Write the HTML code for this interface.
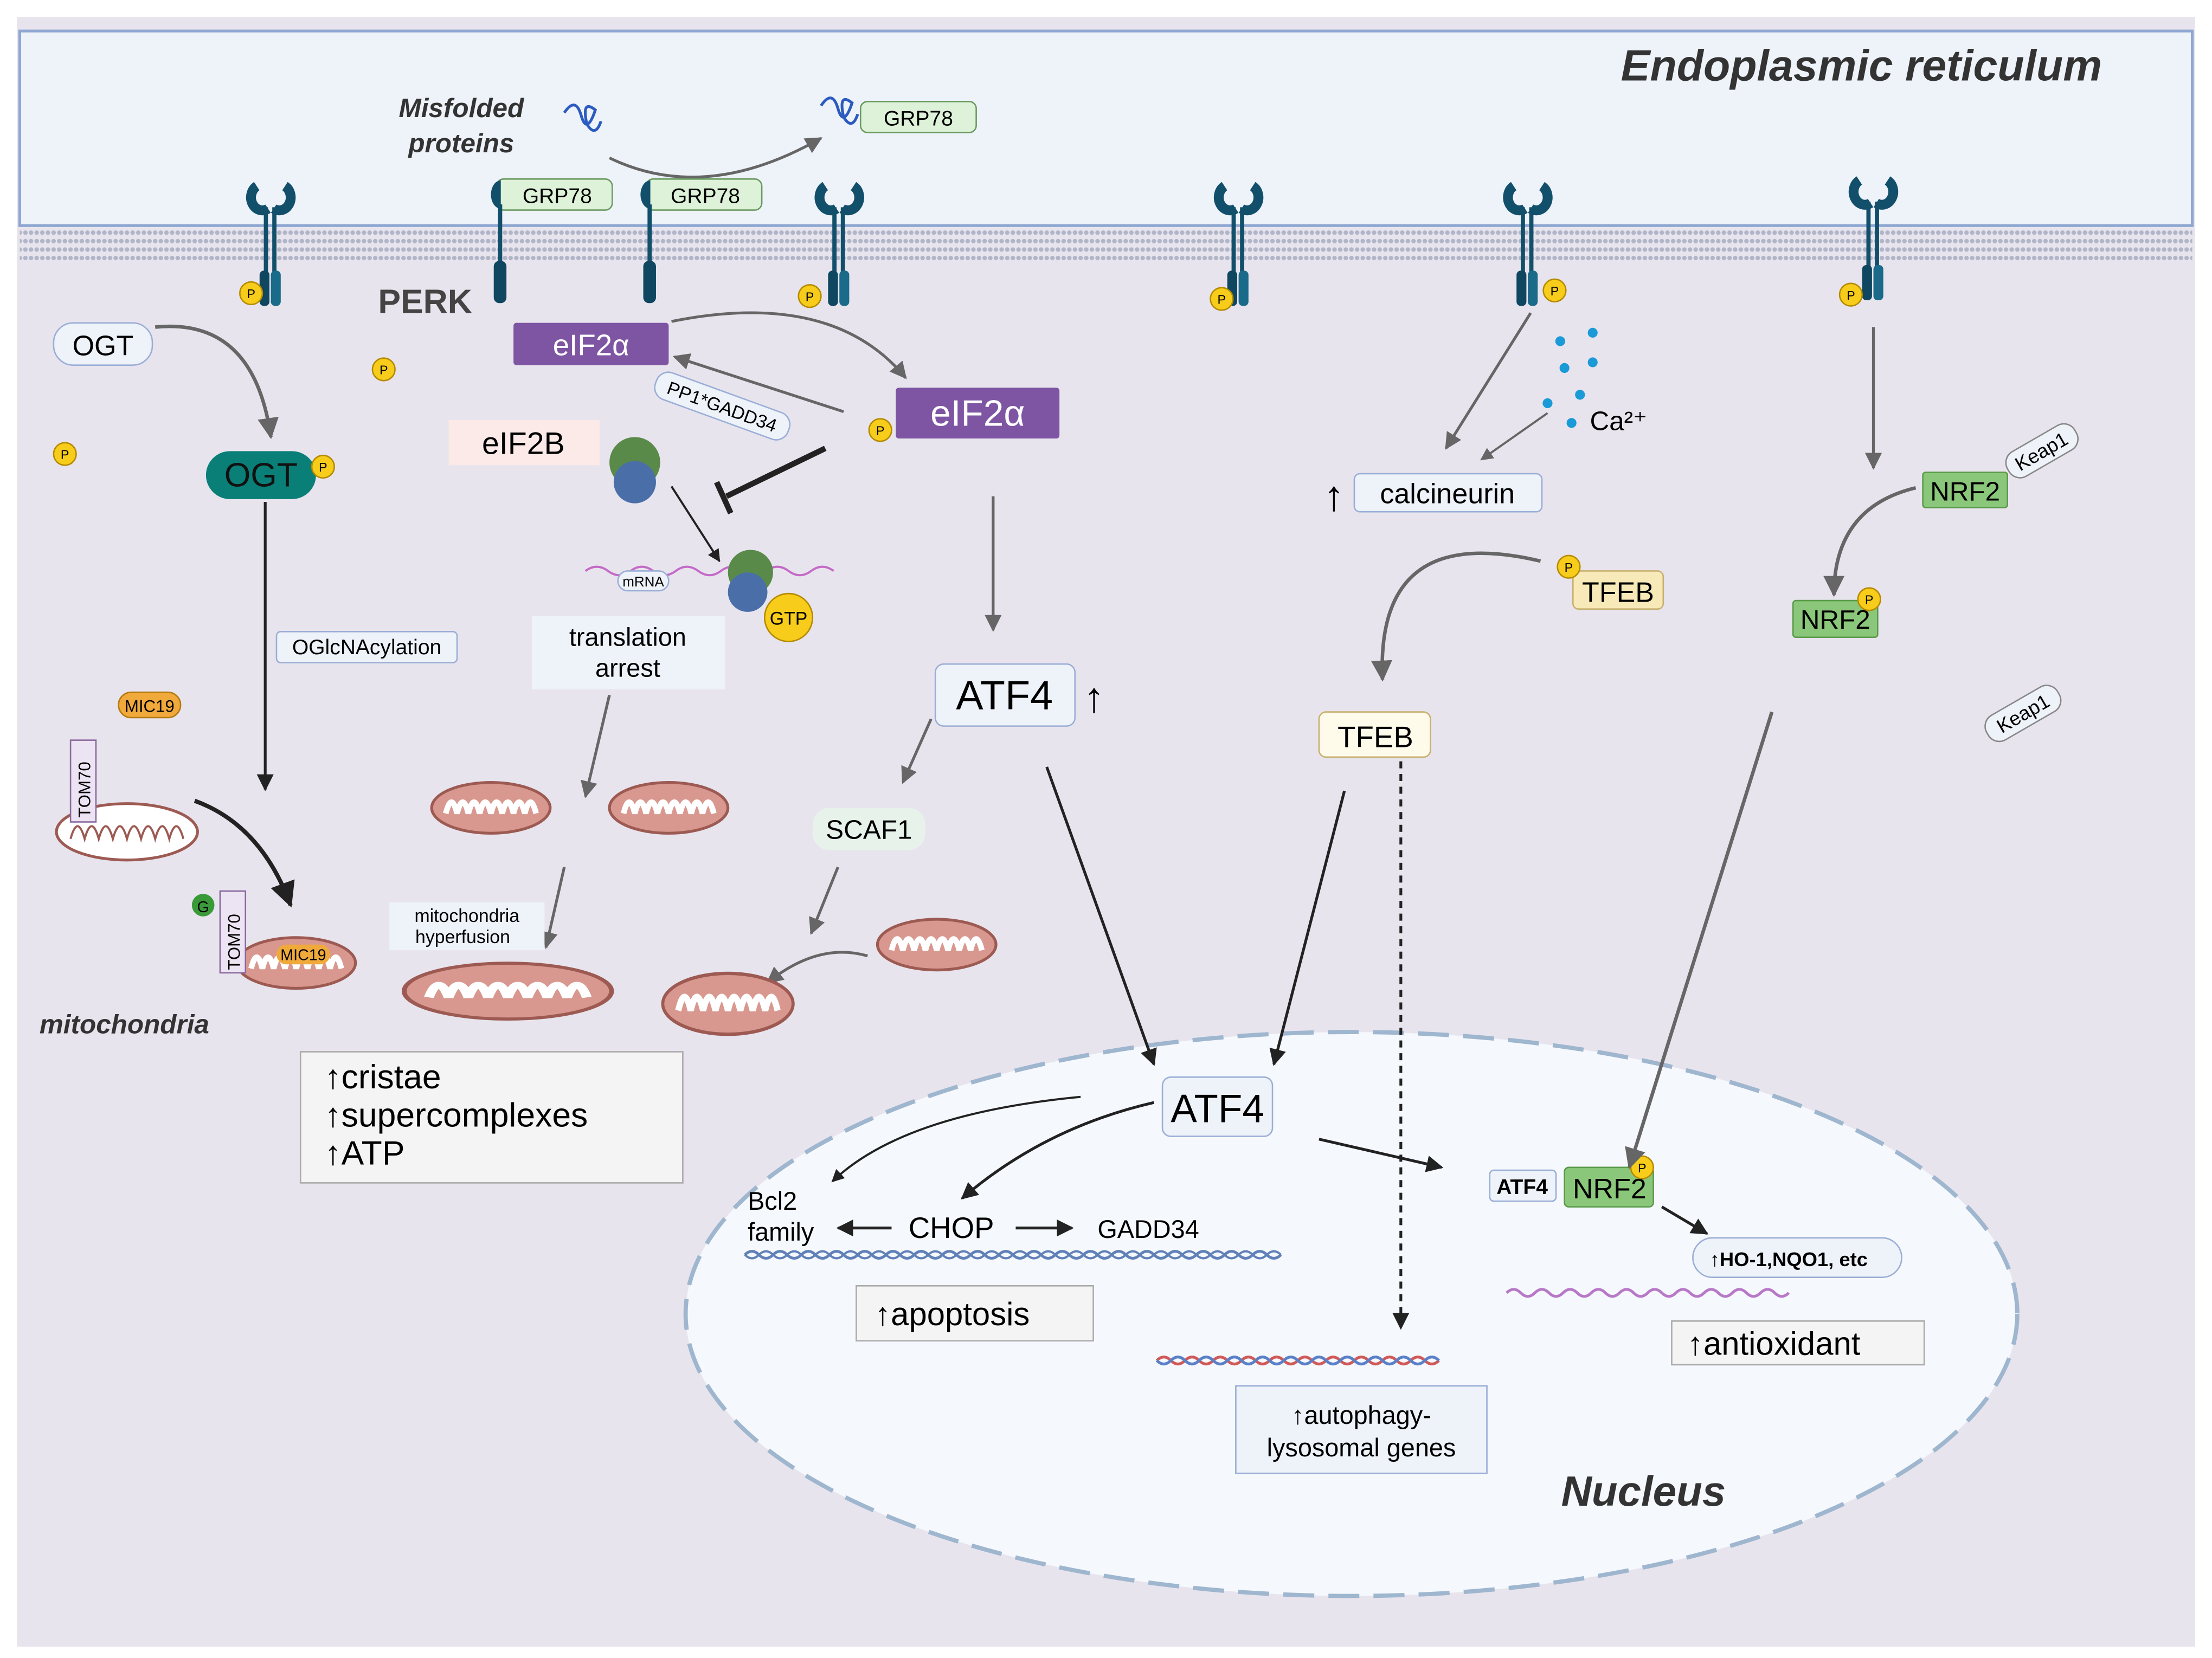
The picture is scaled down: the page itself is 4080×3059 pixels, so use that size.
<!DOCTYPE html><html><head><meta charset="utf-8"><style>html,body{margin:0;padding:0;background:#fff}svg{display:block}text{font-family:"Liberation Sans",sans-serif}</style></head><body>
<svg width="4080" height="3059" viewBox="0 0 1568 1176" preserveAspectRatio="none" xmlns="http://www.w3.org/2000/svg">
<defs>
<marker id="a" viewBox="0 0 10 10" refX="9" refY="5" markerWidth="6" markerHeight="6" orient="auto"><path d="M0,0L10,5L0,10z" fill="#222"/></marker>
<marker id="g" viewBox="0 0 10 10" refX="9" refY="5" markerWidth="6" markerHeight="6" orient="auto"><path d="M0,0L10,5L0,10z" fill="#666"/></marker>
<pattern id="mem" width="4" height="6" patternUnits="userSpaceOnUse"><circle cx="2" cy="3" r="1.6" fill="#aab0c4"/></pattern>
<clipPath id="nc"><rect x="0" y="0" width="1568" height="1134"/></clipPath>
<g id="rec"><path d="M-10,-10 a7,8 0 0 0 8,16 M10,-10 a7,8 0 0 1 -8,16" stroke="#124f6b" stroke-width="7" fill="none"/><rect x="-5" y="5" width="3" height="50" fill="#124f6b"/><rect x="1" y="5" width="3" height="50" fill="#124f6b"/><rect x="-8" y="50" width="7" height="25" rx="3" fill="#0f4660"/><rect x="0" y="50" width="7" height="25" rx="3" fill="#1a6a8a"/></g>
<g id="mito"><ellipse cx="0" cy="0" rx="42" ry="18" fill="#d9988f" stroke="#9c5a52" stroke-width="2"/><path d="M-32,4 q4,-16 8,0 q4,-16 8,0 q4,-16 8,0 q4,-16 8,0 q4,-16 8,0 q4,-16 8,0 q4,-16 8,0 q4,-16 8,0" stroke="#fff" stroke-width="4" fill="none"/></g>
<g id="p"><circle r="8" fill="#f7cc1a" stroke="#b48a00" stroke-width="1"/><text y="3.5" font-size="9" text-anchor="middle">P</text></g>
</defs>
<rect width="1568" height="1176" fill="#fff"/>
<rect x="12" y="12" width="1544" height="1156" fill="#e8e4ed"/>
<ellipse cx="958" cy="932" rx="472" ry="200" fill="#f5f8fc" stroke="#9fb6cf" stroke-width="3" stroke-dasharray="22 10" clip-path="url(#nc)"/>
<rect x="14" y="22" width="1540" height="138" fill="#eef2f9" stroke="#8ea7d2" stroke-width="2"/>
<rect x="14" y="162" width="1540" height="24" fill="url(#mem)" opacity="0.9"/>
<text x="1490" y="57" font-size="31" font-weight="bold" font-style="italic" text-anchor="end" fill="#333">Endoplasmic reticulum</text>
<text x="327" y="83" font-size="19" font-weight="bold" font-style="italic" text-anchor="middle" fill="#333">Misfolded</text>
<text x="327" y="108" font-size="19" font-weight="bold" font-style="italic" text-anchor="middle" fill="#333">proteins</text>
<path d="M400,80 q8,-12 12,2 q4,14 10,-4 q-10,-8 -6,10 q6,10 10,-2" stroke="#2b5bbf" stroke-width="2" fill="none"/>
<path d="M432,112 Q500,145 582,98" stroke="#666" stroke-width="2" fill="none" marker-end="url(#g)"/>
<path d="M582,75 q8,-12 12,2 q4,14 10,-4 q-10,-8 -6,10 q6,10 10,-2" stroke="#2b5bbf" stroke-width="2" fill="none"/>
<rect x="610" y="72" width="82" height="22" rx="5" fill="#ddf2d8" stroke="#6a9a60"/><text x="651" y="89" font-size="15" text-anchor="middle">GRP78</text>
<rect x="352" y="127" width="82" height="22" rx="5" fill="#ddf2d8" stroke="#6a9a60"/><text x="395" y="144" font-size="15" text-anchor="middle">GRP78</text>
<rect x="458" y="127" width="82" height="22" rx="5" fill="#ddf2d8" stroke="#6a9a60"/><text x="500" y="144" font-size="15" text-anchor="middle">GRP78</text>
<path d="M355,128 a7,10 0 0 0 0,20" fill="#124f6b"/><rect x="353" y="145" width="3" height="45" fill="#124f6b"/><rect x="350" y="185" width="9" height="30" rx="4" fill="#0f4660"/>
<path d="M461,128 a7,10 0 0 0 0,20" fill="#124f6b"/><rect x="459" y="145" width="3" height="45" fill="#124f6b"/><rect x="456" y="185" width="9" height="30" rx="4" fill="#0f4660"/>
<use href="#rec" x="192" y="142"/><use href="#rec" x="595" y="142"/><use href="#rec" x="878" y="142"/><use href="#rec" x="1083" y="142"/><use href="#rec" x="1328" y="138"/>
<use href="#p" x="178" y="208"/><use href="#p" x="574" y="210"/><use href="#p" x="866" y="212"/><use href="#p" x="1102" y="206"/><use href="#p" x="1312" y="209"/>
<use href="#p" x="272" y="262"/><use href="#p" x="46" y="322"/>
<text x="268" y="222" font-size="24" font-weight="bold" fill="#444">PERK</text>
<rect x="38" y="229" width="70" height="30" rx="14" fill="#eef2f9" stroke="#9aaed6"/><text x="73" y="252" font-size="20" text-anchor="middle">OGT</text>
<path d="M110,232 Q180,225 192,310" stroke="#666" stroke-width="2.5" fill="none" marker-end="url(#g)"/>
<rect x="146" y="320" width="78" height="34" rx="17" fill="#0a7f77"/><text x="185" y="345" font-size="24" text-anchor="middle" fill="#111">OGT</text><use href="#p" x="229" y="331"/>
<line x1="188" y1="356" x2="188" y2="560" stroke="#222" stroke-width="2" marker-end="url(#a)"/>
<rect x="196" y="448" width="128" height="22" rx="3" fill="#eef2f9" stroke="#9aaed6"/><text x="260" y="464" font-size="15" text-anchor="middle">OGlcNAcylation</text>
<rect x="84" y="491" width="44" height="18" rx="9" fill="#f0a93b" stroke="#b57a10"/><text x="106" y="505" font-size="12" text-anchor="middle">MIC19</text>
<ellipse cx="90" cy="590" rx="50" ry="20" fill="#fff" stroke="#9c5a52" stroke-width="2"/>
<path d="M50,595 q5,-18 10,0 q5,-18 10,0 q5,-18 10,0 q5,-18 10,0 q5,-18 10,0 q5,-18 10,0 q5,-18 10,0 q5,-18 10,0" stroke="#9c5a52" stroke-width="1.5" fill="none"/>
<rect x="50" y="525" width="18" height="58" fill="#ece4f2" stroke="#8a6aa0"/><text x="64" y="580" font-size="12" transform="rotate(-90 64 580)">TOM70</text>
<path d="M138,568 Q185,585 206,642" stroke="#222" stroke-width="3" fill="none" marker-end="url(#a)"/>
<circle cx="144" cy="642" r="8" fill="#3a9a3a"/><text x="144" y="647" font-size="11" text-anchor="middle">G</text>
<use href="#mito" x="210" y="683"/><rect x="156" y="632" width="18" height="58" fill="#ece4f2" stroke="#8a6aa0"/><text x="170" y="688" font-size="12" transform="rotate(-90 170 688)">TOM70</text>
<rect x="196" y="670" width="38" height="14" rx="7" fill="#f0a93b"/><text x="215" y="681" font-size="11" text-anchor="middle">MIC19</text>
<text x="28" y="733" font-size="19" font-weight="bold" font-style="italic" fill="#333">mitochondria</text>
<rect x="213" y="746" width="271" height="93" fill="#f4f4f4" stroke="#aaa"/>
<text x="230" y="772" font-size="24">↑cristae</text><text x="230" y="799" font-size="24">↑supercomplexes</text><text x="230" y="826" font-size="24">↑ATP</text>
<rect x="364" y="229" width="110" height="30" rx="2" fill="#7e55a3"/><text x="419" y="252" font-size="21" fill="#fff" text-anchor="middle">eIF2α</text>
<path d="M476,228 Q590,205 642,268" stroke="#666" stroke-width="2" fill="none" marker-end="url(#g)"/>
<path d="M598,292 L478,253" stroke="#666" stroke-width="2" fill="none" marker-end="url(#g)"/>
<rect x="462" y="278" width="100" height="20" rx="9" fill="#eef2f9" stroke="#9aaed6" transform="rotate(20 512 288)"/><text x="512" y="293" font-size="13" text-anchor="middle" transform="rotate(20 512 288)">PP1*GADD34</text>
<rect x="635" y="275" width="116" height="36" rx="2" fill="#7e55a3"/><text x="693" y="302" font-size="26" fill="#fff" text-anchor="middle">eIF2α</text><use href="#p" x="624" y="305"/>
<rect x="318" y="298" width="107" height="32" fill="#fbeae8"/><text x="371" y="322" font-size="22" text-anchor="middle">eIF2B</text>
<circle cx="450" cy="328" r="18" fill="#5a8a4a"/><circle cx="450" cy="342" r="15" fill="#4a6fa8"/>
<line x1="476" y1="345" x2="510" y2="398" stroke="#222" stroke-width="1.5" marker-end="url(#a)"/>
<path d="M585,318 L515,352" stroke="#222" stroke-width="4"/><path d="M508,342 L518,364" stroke="#222" stroke-width="4"/>
<path d="M415,405 q8,-6 16,0 q8,6 16,0 q8,-6 16,0 q8,6 16,0 q8,-6 16,0 q8,6 16,0 q8,-6 16,0 q8,6 16,0 q8,-6 16,0 q8,6 16,0 q8,-6 16,0" stroke="#c46ac8" stroke-width="1.5" fill="none"/>
<rect x="438" y="405" width="36" height="14" rx="7" fill="#eef2f9" stroke="#9aaed6"/><text x="456" y="416" font-size="10" text-anchor="middle">mRNA</text>
<circle cx="532" cy="406" r="16" fill="#5a8a4a"/><circle cx="530" cy="420" r="14" fill="#4a6fa8"/>
<circle cx="559" cy="438" r="17" fill="#f7cc1a" stroke="#b48a00"/><text x="559" y="443" font-size="13" text-anchor="middle">GTP</text>
<rect x="377" y="437" width="137" height="52" fill="#eef2f9"/><text x="445" y="458" font-size="18" text-anchor="middle">translation</text><text x="445" y="480" font-size="18" text-anchor="middle">arrest</text>
<line x1="432" y1="493" x2="415" y2="565" stroke="#666" stroke-width="2" marker-end="url(#g)"/>
<use href="#mito" x="348" y="573"/><use href="#mito" x="474" y="573"/>
<line x1="400" y1="615" x2="387" y2="672" stroke="#666" stroke-width="2" marker-end="url(#g)"/>
<rect x="276" y="640" width="110" height="34" fill="#eef2f9"/><text x="331" y="654" font-size="13" text-anchor="middle">mitochondria</text><text x="328" y="669" font-size="13" text-anchor="middle">hyperfusion</text>
<g transform="translate(360,703) scale(1.75,1.1)"><use href="#mito"/></g>
<line x1="704" y1="352" x2="704" y2="447" stroke="#666" stroke-width="2" marker-end="url(#g)"/>
<rect x="663" y="471" width="99" height="44" rx="6" fill="#eef2f9" stroke="#9aaed6"/><text x="712" y="503" font-size="29" text-anchor="middle">ATF4</text>
<text x="768" y="505" font-size="30" font-weight="bold">↑</text>
<line x1="660" y1="510" x2="640" y2="555" stroke="#666" stroke-width="2" marker-end="url(#g)"/>
<rect x="576" y="573" width="80" height="30" rx="12" fill="#e6f2ea"/><text x="616" y="595" font-size="19" text-anchor="middle">SCAF1</text>
<line x1="594" y1="615" x2="575" y2="662" stroke="#666" stroke-width="2" marker-end="url(#g)"/>
<use href="#mito" x="664" y="670"/>
<path d="M615,678 Q580,668 544,697" stroke="#666" stroke-width="2" fill="none" marker-end="url(#g)"/>
<g transform="translate(516,712) scale(1.1,1.2)"><use href="#mito"/></g>
<line x1="742" y1="544" x2="818" y2="755" stroke="#222" stroke-width="2" marker-end="url(#a)"/>
<rect x="824" y="764" width="78" height="42" rx="6" fill="#eef2f9" stroke="#9aaed6"/><text x="863" y="796" font-size="28" text-anchor="middle">ATF4</text>
<path d="M766,778 Q640,790 590,838" stroke="#222" stroke-width="1.5" fill="none" marker-end="url(#a)"/>
<path d="M818,782 Q740,800 682,850" stroke="#222" stroke-width="2" fill="none" marker-end="url(#a)"/>
<text x="530" y="858" font-size="18">Bcl2</text><text x="530" y="880" font-size="18">family</text>
<text x="644" y="878" font-size="21">CHOP</text><text x="778" y="878" font-size="18">GADD34</text>
<line x1="632" y1="871" x2="594" y2="871" stroke="#222" stroke-width="2" marker-end="url(#a)"/>
<line x1="720" y1="871" x2="760" y2="871" stroke="#222" stroke-width="2" marker-end="url(#a)"/>
<path d="M528,890 q5,-5 10,0 q5,5 10,0 q5,-5 10,0 q5,5 10,0 q5,-5 10,0 q5,5 10,0 q5,-5 10,0 q5,5 10,0 q5,-5 10,0 q5,5 10,0 q5,-5 10,0 q5,5 10,0 q5,-5 10,0 q5,5 10,0 q5,-5 10,0 q5,5 10,0 q5,-5 10,0 q5,5 10,0 q5,-5 10,0 q5,5 10,0 q5,-5 10,0 q5,5 10,0 q5,-5 10,0 q5,5 10,0 q5,-5 10,0 q5,5 10,0 q5,-5 10,0 q5,5 10,0 q5,-5 10,0 q5,5 10,0 q5,-5 10,0 q5,5 10,0 q5,-5 10,0 q5,5 10,0 q5,-5 10,0 q5,5 10,0 q5,-5 10,0 q5,5 10,0" stroke="#6080b8" stroke-width="2" fill="none"/>
<path d="M528,890 q5,5 10,0 q5,-5 10,0 q5,5 10,0 q5,-5 10,0 q5,5 10,0 q5,-5 10,0 q5,5 10,0 q5,-5 10,0 q5,5 10,0 q5,-5 10,0 q5,5 10,0 q5,-5 10,0 q5,5 10,0 q5,-5 10,0 q5,5 10,0 q5,-5 10,0 q5,5 10,0 q5,-5 10,0 q5,5 10,0 q5,-5 10,0 q5,5 10,0 q5,-5 10,0 q5,5 10,0 q5,-5 10,0 q5,5 10,0 q5,-5 10,0 q5,5 10,0 q5,-5 10,0 q5,5 10,0 q5,-5 10,0 q5,5 10,0 q5,-5 10,0 q5,5 10,0 q5,-5 10,0 q5,5 10,0 q5,-5 10,0 q5,5 10,0 q5,-5 10,0" stroke="#6080b8" stroke-width="1.5" fill="none"/>
<rect x="607" y="912" width="168" height="39" fill="#f4f4f4" stroke="#aaa"/><text x="620" y="940" font-size="23">↑apoptosis</text>
<line x1="935" y1="808" x2="1022" y2="828" stroke="#222" stroke-width="2" marker-end="url(#a)"/>
<rect x="1056" y="830" width="47" height="22" rx="3" fill="#eef2f9" stroke="#9aaed6"/><text x="1079" y="847" font-size="15" font-weight="bold" text-anchor="middle">ATF4</text>
<rect x="1109" y="828" width="63" height="28" rx="3" fill="#8bc77a" stroke="#5a9a4a"/><text x="1141" y="850" font-size="20" text-anchor="middle">NRF2</text><use href="#p" x="1164" y="828"/>
<line x1="1178" y1="856" x2="1210" y2="875" stroke="#222" stroke-width="2" marker-end="url(#a)"/>
<rect x="1200" y="878" width="148" height="28" rx="14" fill="#eef2f9" stroke="#9aaed6"/><text x="1212" y="898" font-size="14" font-weight="bold">↑HO-1,NQO1, etc</text>
<path d="M1068,917 q5,-5 10,0 q5,5 10,0 q5,-5 10,0 q5,5 10,0 q5,-5 10,0 q5,5 10,0 q5,-5 10,0 q5,5 10,0 q5,-5 10,0 q5,5 10,0 q5,-5 10,0 q5,5 10,0 q5,-5 10,0 q5,5 10,0 q5,-5 10,0 q5,5 10,0 q5,-5 10,0 q5,5 10,0 q5,-5 10,0 q5,5 10,0" stroke="#b878c8" stroke-width="2" fill="none"/>
<rect x="1185" y="937" width="179" height="31" fill="#f4f4f4" stroke="#aaa"/><text x="1196" y="961" font-size="23">↑antioxidant</text>
<path d="M820,965 q5,-5 10,0 q5,5 10,0 q5,-5 10,0 q5,5 10,0 q5,-5 10,0 q5,5 10,0 q5,-5 10,0 q5,5 10,0 q5,-5 10,0 q5,5 10,0 q5,-5 10,0 q5,5 10,0 q5,-5 10,0 q5,5 10,0 q5,-5 10,0 q5,5 10,0 q5,-5 10,0 q5,5 10,0 q5,-5 10,0 q5,5 10,0" stroke="#d05a5a" stroke-width="2" fill="none"/>
<path d="M820,965 q5,5 10,0 q5,-5 10,0 q5,5 10,0 q5,-5 10,0 q5,5 10,0 q5,-5 10,0 q5,5 10,0 q5,-5 10,0 q5,5 10,0 q5,-5 10,0 q5,5 10,0 q5,-5 10,0 q5,5 10,0 q5,-5 10,0 q5,5 10,0 q5,-5 10,0 q5,5 10,0 q5,-5 10,0 q5,5 10,0 q5,-5 10,0" stroke="#5a80c8" stroke-width="2" fill="none"/>
<rect x="876" y="983" width="178" height="62" fill="#eef2f9" stroke="#9aaed6"/><text x="965" y="1010" font-size="18" text-anchor="middle">↑autophagy-</text><text x="965" y="1033" font-size="18" text-anchor="middle">lysosomal genes</text>
<text x="1165" y="1068" font-size="30" font-weight="bold" font-style="italic" text-anchor="middle" fill="#333">Nucleus</text>
<line x1="1085" y1="222" x2="1025" y2="318" stroke="#666" stroke-width="2" marker-end="url(#g)"/>
<g fill="#1a9ad6"><circle cx="1106" cy="242" r="3.5"/><circle cx="1129" cy="236" r="3.5"/><circle cx="1109" cy="261" r="3.5"/><circle cx="1129" cy="257" r="3.5"/><circle cx="1097" cy="286" r="3.5"/><circle cx="1120" cy="280" r="3.5"/><circle cx="1114" cy="300" r="3.5"/></g>
<text x="1127" y="305" font-size="19">Ca²⁺</text>
<line x1="1097" y1="293" x2="1050" y2="326" stroke="#666" stroke-width="1.5" marker-end="url(#g)"/>
<text x="938" y="362" font-size="30" font-weight="bold">↑</text>
<rect x="960" y="336" width="133" height="27" rx="4" fill="#eef2f9" stroke="#9aaed6"/><text x="1026" y="357" font-size="20" text-anchor="middle">calcineurin</text>
<path d="M1092,398 Q975,370 980,482" stroke="#666" stroke-width="2.5" fill="none" marker-end="url(#g)"/>
<rect x="1115" y="405" width="64" height="27" rx="4" fill="#f8eab8" stroke="#c8b070"/><text x="1147" y="427" font-size="20" text-anchor="middle">TFEB</text><use href="#p" x="1112" y="402"/>
<rect x="935" y="505" width="79" height="32" rx="5" fill="#fffbea" stroke="#c8b070"/><text x="975" y="530" font-size="21" text-anchor="middle">TFEB</text>
<line x1="953" y1="561" x2="903" y2="755" stroke="#222" stroke-width="2" marker-end="url(#a)"/>
<line x1="993" y1="540" x2="993" y2="942" stroke="#222" stroke-width="2" stroke-dasharray="5 4" marker-end="url(#a)"/>
<line x1="1328" y1="232" x2="1328" y2="332" stroke="#666" stroke-width="2" marker-end="url(#g)"/>
<rect x="1363" y="335" width="60" height="25" rx="2" fill="#8bc77a" stroke="#5a9a4a"/><text x="1393" y="355" font-size="19" text-anchor="middle">NRF2</text>
<rect x="1420" y="310" width="55" height="20" rx="9" fill="#eef2f9" stroke="#888" transform="rotate(-30 1447 320)"/><text x="1447" y="325" font-size="14" text-anchor="middle" transform="rotate(-30 1447 320)">Keap1</text>
<path d="M1358,346 Q1300,360 1300,422" stroke="#666" stroke-width="2.5" fill="none" marker-end="url(#g)"/>
<rect x="1271" y="426" width="60" height="26" rx="2" fill="#8bc77a" stroke="#5a9a4a"/><text x="1301" y="446" font-size="19" text-anchor="middle">NRF2</text><use href="#p" x="1325" y="425"/>
<rect x="1405" y="496" width="58" height="20" rx="9" fill="#eef2f9" stroke="#888" transform="rotate(-30 1434 506)"/><text x="1434" y="511" font-size="14" text-anchor="middle" transform="rotate(-30 1434 506)">Keap1</text>
<line x1="1256" y1="505" x2="1155" y2="828" stroke="#666" stroke-width="2.5" marker-end="url(#g)"/>
</svg>
</body></html>
